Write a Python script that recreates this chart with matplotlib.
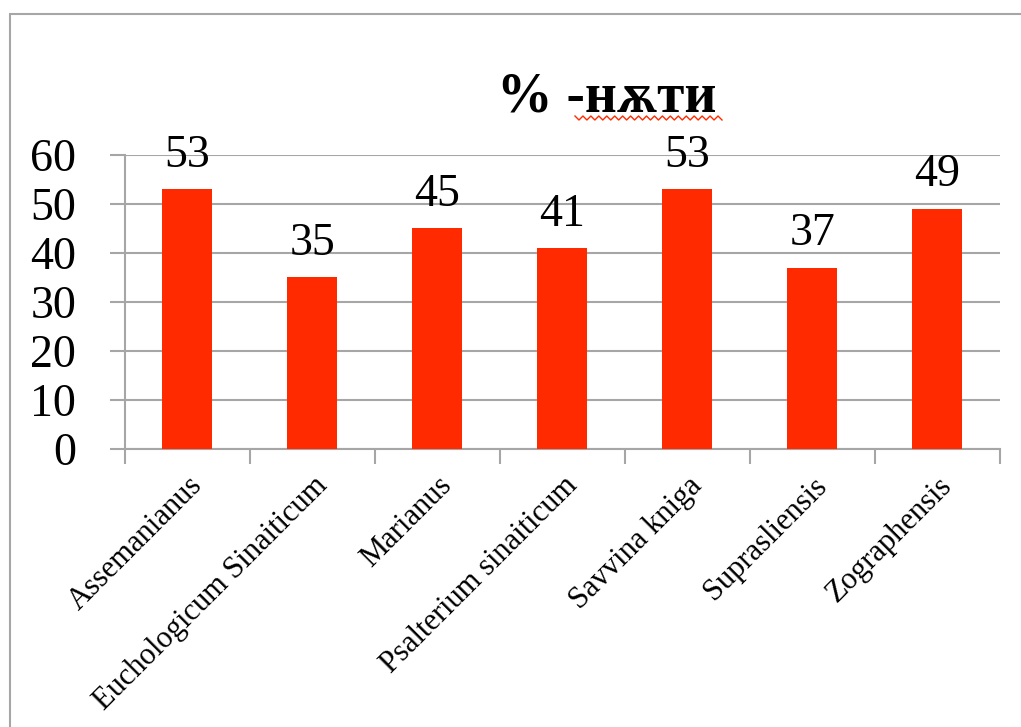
import matplotlib
matplotlib.use('Agg')
from matplotlib import pyplot as plt
from matplotlib.patches import Rectangle
from matplotlib.lines import Line2D
import numpy as np

# Data
categories = ['Assemanianus', 'Euchologicum Sinaiticum', 'Marianus',
              'Psalterium sinaiticum', 'Savvina kniga', 'Suprasliensis',
              'Zographensis']
values = [53, 35, 45, 41, 53, 37, 49]
y_ticks = [0, 10, 20, 30, 40, 50, 60]
title = '% -нѫти'

SERIF = ['Liberation Serif', 'DejaVu Serif']
BAR_COLOR = '#ff2a00'
GRID_COLOR = '#a6a6a6'

plt.rcParams['font.family'] = SERIF

fig = plt.figure(figsize=(10.21, 7.27), dpi=100)
ax = fig.add_axes([0.1224, 0.3824, 0.857, 0.4044])

x = np.arange(len(categories))
ax.bar(x, values, width=0.4, color=BAR_COLOR, zorder=3)

# value labels above the bars
for xi, v in zip(x, values):
    ax.annotate(str(v), (xi, v), xytext=(0, 9), textcoords='offset points',
                ha='center', va='bottom', fontsize=33)

ax.set_xlim(-0.5, len(categories) - 0.5)
ax.set_ylim(0, 60)
ax.set_yticks(y_ticks)
ax.set_yticklabels([str(t) for t in y_ticks], fontsize=33)
ax.tick_params(axis='y', length=11, width=1.5, color=GRID_COLOR, pad=24)

# category boundaries carry the x ticks, labels sit under the bars
ax.set_xticks(np.arange(-0.5, len(categories), 1.0))
ax.set_xticklabels([])
ax.set_xticks(x, minor=True)
ax.set_xticklabels(categories, minor=True, rotation=45, ha='right',
                   rotation_mode='anchor', fontsize=22)
ax.tick_params(axis='x', which='major', length=11, width=1.5, color=GRID_COLOR)
ax.tick_params(axis='x', which='minor', length=0, pad=16)

ax.grid(axis='y', color=GRID_COLOR, linewidth=1.5, zorder=0)
ax.set_axisbelow(True)
for side in ('top', 'right'):
    ax.spines[side].set_visible(False)
for side in ('left', 'bottom'):
    ax.spines[side].set_color(GRID_COLOR)
    ax.spines[side].set_linewidth(1.5)

fig.text(0.594, 0.866, title, ha='center', va='center', fontsize=40,
         fontweight='bold', family=SERIF)

# red spell-check squiggle under the Cyrillic word
sx = np.linspace(575, 722, 38)
sy = 727 - 118 + np.where(np.arange(len(sx)) % 2 == 0, 2, -2)
fig.add_artist(Line2D(sx / 1021, sy / 727, color='#ff2a00', linewidth=1.0))

# outer chart-area frame (only the left and top edges are visible)
fig.patches.append(Rectangle((0.0098, -0.1), 1.2, 1.0807, transform=fig.transFigure,
                             fill=False, edgecolor=GRID_COLOR, linewidth=1.5))

fig.savefig('out.png', dpi=100)
